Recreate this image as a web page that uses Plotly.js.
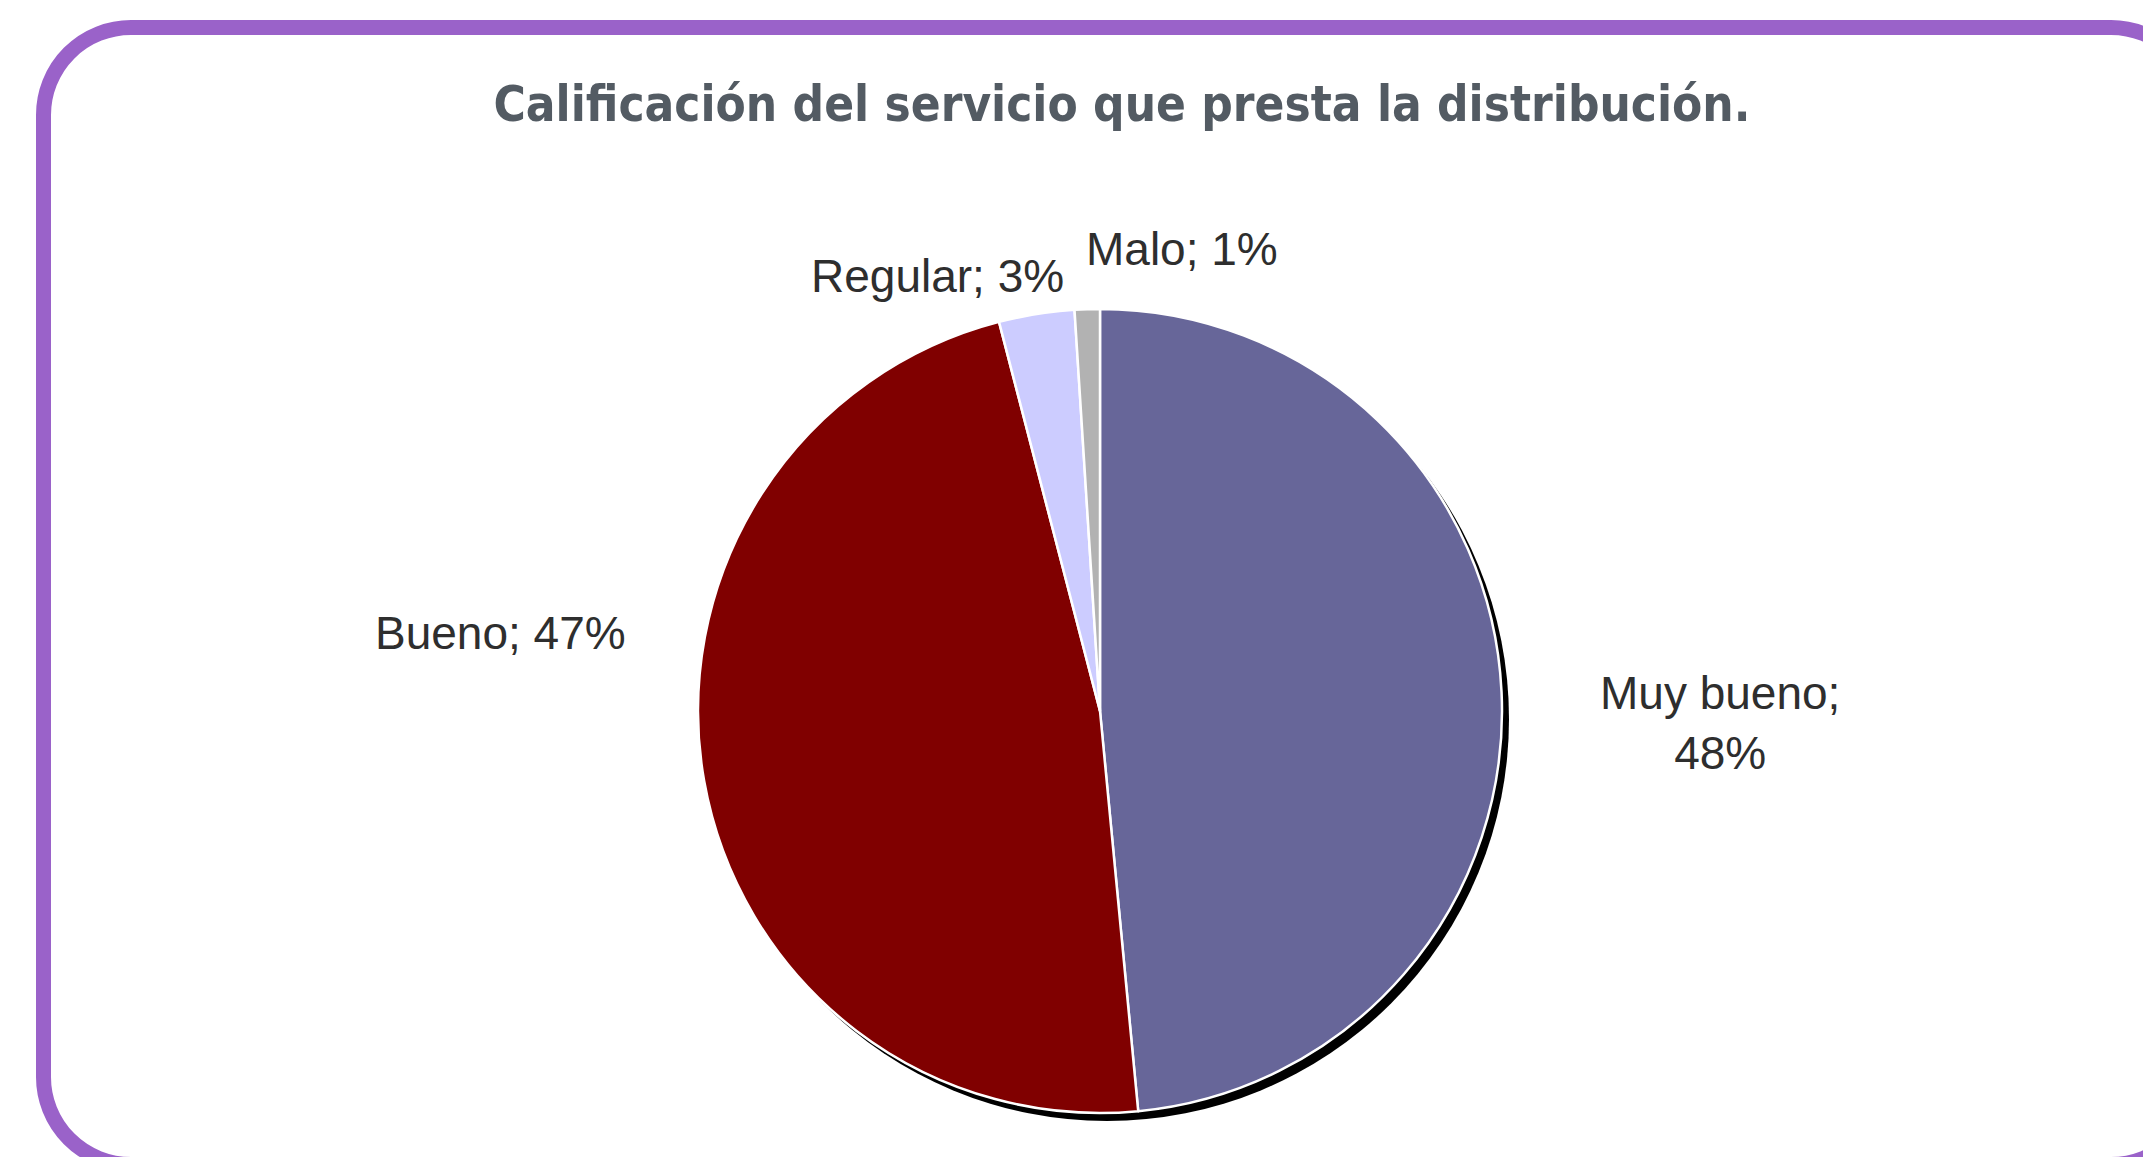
<!DOCTYPE html>
<html>
<head>
<meta charset="utf-8">
<script src="https://cdn.plot.ly/plotly-3.0.1.min.js"></script>
<style>
  html, body { margin: 0; padding: 0; width: 2143px; height: 1157px; overflow: hidden; background: #ffffff; }
  #frame { position: absolute; left: 36px; top: 20px; width: 2140px; height: 1122px;
           border: 15px solid #9a62c9; border-radius: 95px; box-sizing: content-box; }
  #chart { position: absolute; left: 0; top: 0; width: 2143px; height: 1157px; }
</style>
</head>
<body>
<div id="frame"></div>
<div id="chart"></div>
<script>
// ---- data ----
const categories = ['Muy bueno', 'Bueno', 'Regular', 'Malo'];
const percentages = [48, 47, 3, 1];
const sliceColors = ['#676699', '#800000', '#ccccff', '#b2b2b2'];
const chartTitle = 'Calificación del servicio que presta la distribución.';

// ---- layout helpers (pixel -> paper) ----
const W = 2143, H = 1157;
const px = x => x / W;
const py = y => 1 - y / H;

const cx = 1100, cy = 711, R = 402;

const pieTrace = {
  type: 'pie',
  labels: categories,
  values: percentages,
  marker: { colors: sliceColors, line: { color: '#ffffff', width: 2.5 } },
  sort: false,
  direction: 'clockwise',
  rotation: 0,
  textinfo: 'none',
  hoverinfo: 'label+percent',
  showlegend: false,
  domain: { x: [px(cx - R), px(cx + R)], y: [py(cy + R), py(cy - R)] }
};

// label annotations built from the data arrays
const labelPlacement = [
  { x: 1720, y: 723, xanchor: 'center', br: true },
  { x: 373,  y: 633, xanchor: 'left',   br: false },
  { x: 809,  y: 276, xanchor: 'left',   br: false },
  { x: 1084, y: 249, xanchor: 'left',   br: false }
];
const annotations = categories.map((c, i) => {
  const p = labelPlacement[i];
  return {
    text: c + ';' + (p.br ? '<br>' : ' ') + percentages[i] + '%',
    xref: 'paper', yref: 'paper',
    x: px(p.x), y: py(p.y),
    xanchor: p.xanchor, yanchor: 'middle',
    align: 'center',
    showarrow: false,
    font: { family: 'Liberation Sans, Arial, sans-serif', size: 46, color: '#2e2e2e' }
  };
});

const layout = {
  width: W, height: H,
  margin: { l: 0, r: 0, t: 0, b: 0 },
  paper_bgcolor: 'rgba(0,0,0,0)',
  plot_bgcolor: 'rgba(0,0,0,0)',
  title: {
    text: chartTitle,
    x: px(1122), xref: 'paper', xanchor: 'center',
    y: py(104), yref: 'container', yanchor: 'middle',
    font: { family: 'DejaVu Sans Condensed, sans-serif', size: 49, weight: 'bold', color: '#535b63' }
  },
  shapes: [
    { type: 'circle', xref: 'paper', yref: 'paper', layer: 'below',
      x0: px(cx - R + 7), x1: px(cx + R + 7), y0: py(cy + R + 8), y1: py(cy - R + 8),
      fillcolor: '#000000', line: { width: 0 } }
  ],
  annotations: annotations
};

Plotly.newPlot('chart', [pieTrace], layout, { displayModeBar: false, staticPlot: true });
</script>
</body>
</html>
